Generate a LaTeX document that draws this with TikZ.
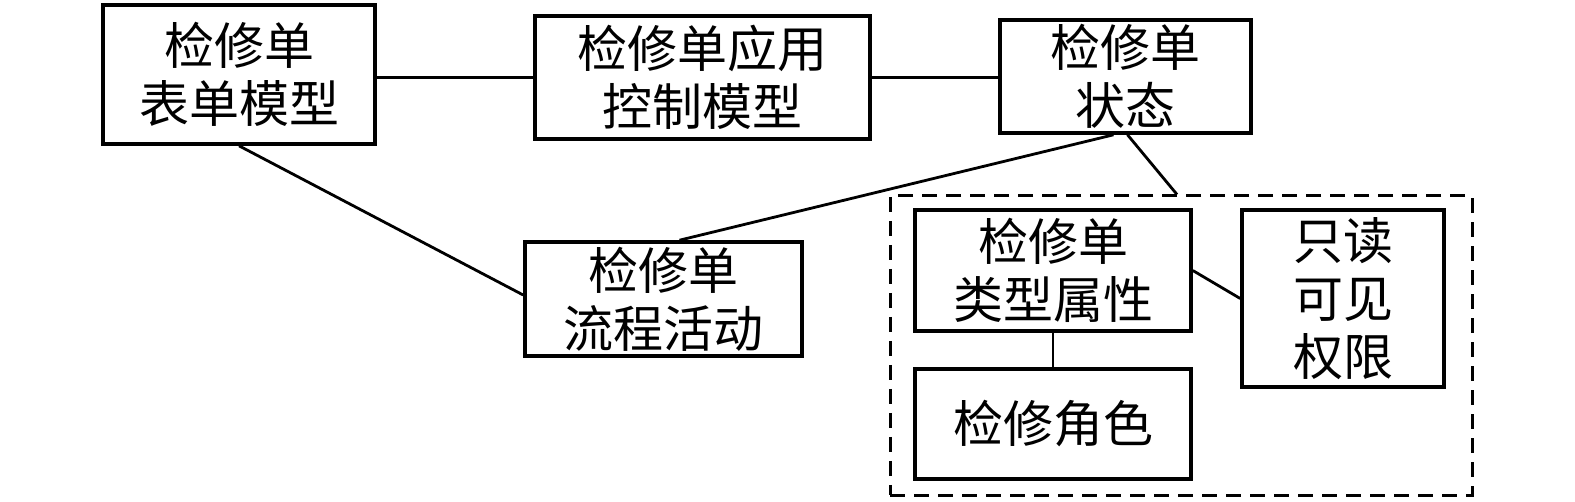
\documentclass[tikz,border=0pt]{standalone}
\usepackage{fontspec}
\newfontfamily\cjk{Noto Sans CJK SC}
\begin{document}
\begin{tikzpicture}[x=1pt,y=1pt,
  box/.style={draw=black, line width=3.6pt, inner sep=0pt, align=center,
    font=\cjk\fontsize{50}{58}\selectfont},
  conn/.style={draw=black, line width=2.8pt},
  grp/.style={draw=black, line width=3pt, dash pattern=on 15pt off 9pt}]
\useasboundingbox (0,0) rectangle (1575,-502);
\fill[white] (0,0) rectangle (1575,-502);
\node[grp, minimum width=582pt, minimum height=299pt] (grp) at (1181,-345.5) {};
\node[box, minimum width=272pt, minimum height=139pt] (b1) at (239,-74.5) {检修单\\表单模型};
\node[box, minimum width=335pt, minimum height=123pt] (b2) at (702.5,-77.5) {检修单应用\\控制模型};
\node[box, minimum width=251pt, minimum height=113pt] (b3) at (1125.5,-76.5) {检修单\\状态};
\node[box, minimum width=277pt, minimum height=114pt] (b4) at (663.5,-299) {检修单\\流程活动};
\node[box, minimum width=276pt, minimum height=121pt] (b6) at (1053,-270.5) {检修单\\类型属性};
\node[box, minimum width=202pt, minimum height=177pt] (b7) at (1343,-298.5) {只读\\可见\\权限};
\node[box, minimum width=276pt, minimum height=110pt] (b8) at (1053,-424) {检修角色};
\draw[conn] (b1.east |- b2.west) -- (b2.west);
\draw[conn] (b2.east) -- (b2.east -| b3.west);
\draw[conn] (b1.south) -- ([yshift=4pt]b4.west);
\draw[conn] ([xshift=-12pt]b3.south) -- ([xshift=16pt]b4.north);
\draw[conn] ([xshift=2pt]b3.south) -- ([xshift=-4pt]grp.north);
\draw[conn] (b6.east) -- (b7.west);
\draw[conn] (b6.south) -- (b8.north);
\end{tikzpicture}
\end{document}
